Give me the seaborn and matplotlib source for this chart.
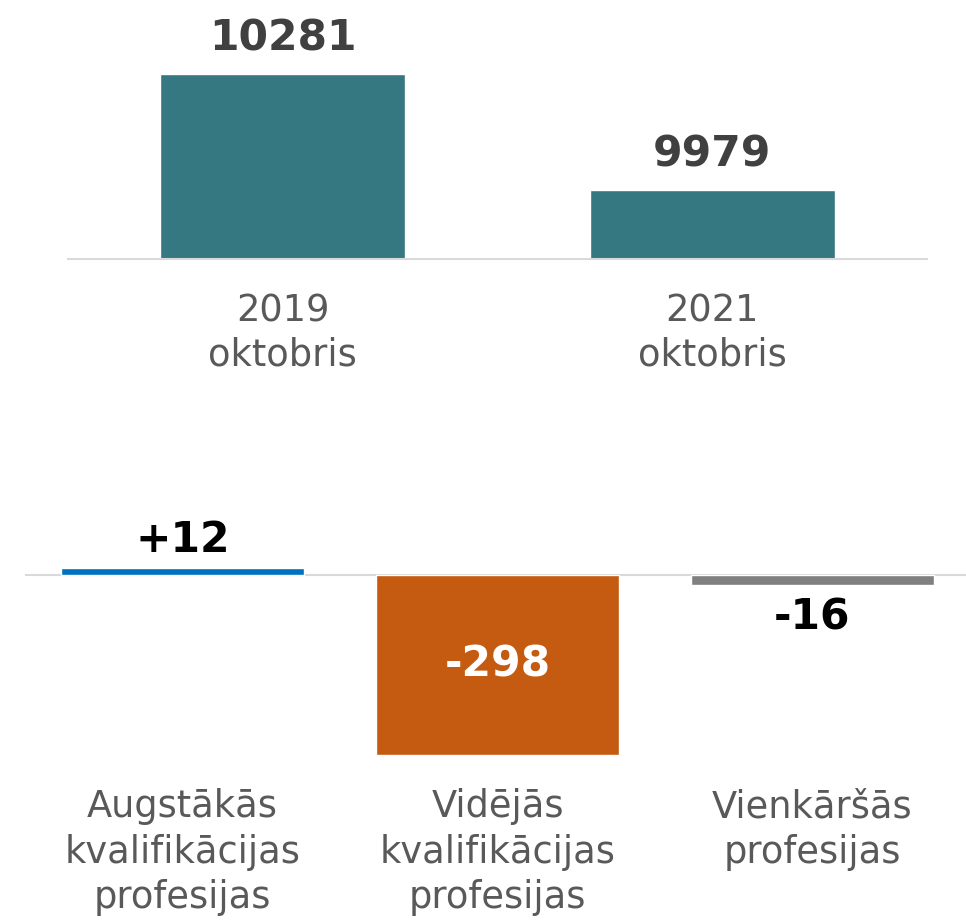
import matplotlib.pyplot as plt
import seaborn as sns
import pandas as pd

# data
periods = ['2019\noktobris', '2021\noktobris']
totals = [10281, 9979]

groups = ['Augstākās\nkvalifikācijas\nprofesijas', 'Vidējās\nkvalifikācijas\nprofesijas', 'Vienkāršās\nprofesijas']
changes = [12, -298, -16]

teal = '#367882'
change_colors = ['#0070C0', '#C55A11', '#808080']

sns.set_theme(style='white')
plt.rcParams['font.family'] = ['DejaVu Sans']

W, H = 966, 922
fig = plt.figure(figsize=(W / 100, H / 100), dpi=100)

# top panel: totals
ax1 = fig.add_axes([68 / W, (H - 259) / H, 859 / W, 259 / H])
df1 = pd.DataFrame({'period': periods, 'total': totals})
sns.barplot(data=df1, x='period', y='total', color=teal, width=0.57, ax=ax1, saturation=1)
ax1.set_xlim(-0.5, 1.5)
ax1.set_ylim(9799, 9799 + 259 / 0.3846)
for i, v in enumerate(totals):
    ax1.annotate(str(v), (i, v), xytext=(0, 25.5), textcoords='offset points',
                 ha='center', va='center', fontsize=30.5, fontweight='bold', color='#404040')

# bottom panel: changes
ax2 = fig.add_axes([25 / W, (H - 770) / H, 945 / W, 255 / H])
df2 = pd.DataFrame({'group': groups, 'change': changes})
sns.barplot(data=df2, x='group', y='change', hue='group', palette=change_colors,
            width=0.77, legend=False, ax=ax2, saturation=1)
ax2.set_xlim(-0.5, 2.5)
ax2.set_ylim(-(770 - 575) / 0.604, (575 - 515) / 0.604)
ax2.axhline(0, color='#D9D9D9', lw=1.5, zorder=0)
for i, v in enumerate(changes):
    txt = f'{v:+d}' if v > 0 else str(v)
    if v > 0:
        ax2.annotate(txt, (i, v), xytext=(0, 20), textcoords='offset points',
                     ha='center', va='center', fontsize=30.5, fontweight='bold', color='black')
    elif v < -100:
        ax2.text(i, v / 2, txt, ha='center', va='center', fontsize=30.5,
                 fontweight='bold', color='white')
    else:
        ax2.annotate(txt, (i, v), xytext=(0, -24), textcoords='offset points',
                     ha='center', va='center', fontsize=30.5, fontweight='bold', color='black')

for ax in (ax1, ax2):
    ax.set_xlabel('')
    ax.set_ylabel('')
    ax.set_yticks([])
    ax.tick_params(axis='x', length=0, labelsize=26.5, labelcolor='#595959')
    sns.despine(ax=ax, left=True, top=True, right=True, bottom=False)
    ax.patch.set_alpha(0)

ax1.spines['bottom'].set_color('#D9D9D9')
ax1.spines['bottom'].set_linewidth(1.5)
ax1.tick_params(axis='x', pad=24)
plt.setp(ax1.get_xticklabels(), linespacing=1.25)
ax2.spines['bottom'].set_visible(False)
ax2.tick_params(axis='x', pad=13)
plt.setp(ax2.get_xticklabels(), linespacing=1.3)

fig.savefig('out.png', dpi=100)
